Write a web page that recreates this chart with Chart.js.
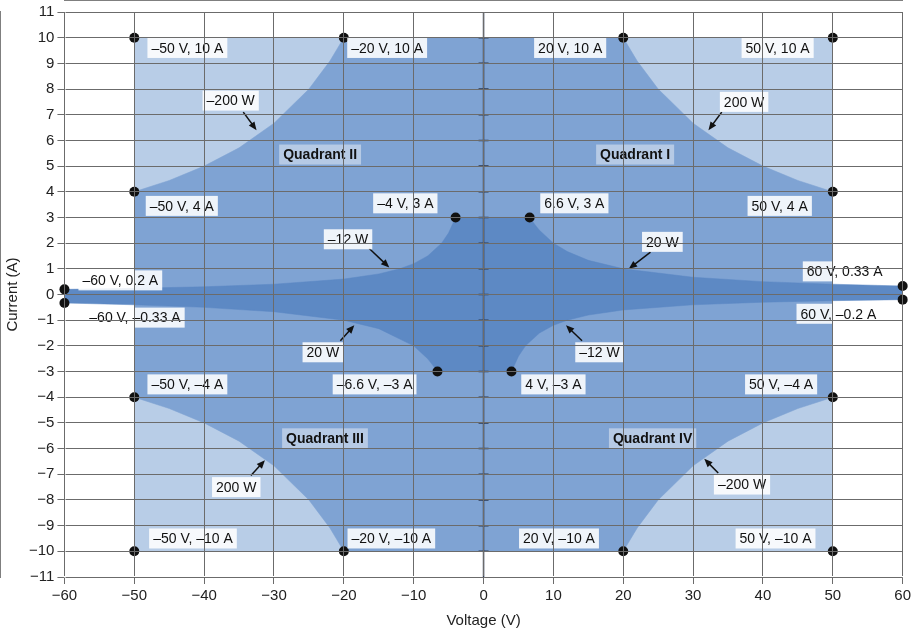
<!DOCTYPE html>
<html>
<head>
<meta charset="utf-8">
<script src="https://cdn.jsdelivr.net/npm/chart.js@4.4.1/dist/chart.umd.min.js"></script>
<style>
  html, body { margin: 0; padding: 0; background: #fff; }
  #wrap { width: 914px; height: 634px; }
</style>
</head>
<body>
<div id="wrap"><canvas id="quadChart"></canvas></div>
<script>
// Operating envelope: outer 200 W boundary (upper half, mirrored below)
const outerV = [-50, -45, -40, -35, -30, -25, -22, -20, 0, 20, 22, 25, 30, 35, 40, 45, 50];
const outerI = [4, 4.44, 5, 5.71, 6.67, 8, 9.09, 10, 10, 10, 9.09, 8, 6.67, 5.71, 5, 4.44, 4];
const outerLowI = [-4, -4.44, -5, -5.71, -6.67, -8, -9.09, -10, -10, -10, -9.09, -8, -6.67, -5.71, -5, -4.44, -4];

// Inner 12 W / 20 W envelope
const innerUpV = [-60, -50, -40, -30, -20, -15, -12, -10, -8, -6, -5, -4, 0, 6.6, 7.5, 8, 10, 12, 15, 20, 30, 40, 50, 60];
const innerUpI = [0.2, 0.24, 0.3, 0.4, 0.6, 0.8, 1, 1.2, 1.5, 2, 2.4, 3, 3, 3, 2.67, 2.5, 2, 1.67, 1.33, 1, 0.67, 0.5, 0.4, 0.33];
const innerLowV = [-60, -50, -40, -30, -20, -15, -10, -8, -7.5, -6.6, 0, 4, 5, 6, 8, 10, 12, 15, 20, 30, 40, 50, 60];
const innerLowI = [-0.33, -0.4, -0.5, -0.67, -1, -1.33, -2, -2.5, -2.67, -3, -3, -3, -2.4, -2, -1.5, -1.2, -1, -0.8, -0.6, -0.4, -0.3, -0.24, -0.2];

// Corner points
const dotV = [-50, -20, 20, 50, -50, 50, -4, 6.6, -60, -60, 60, 60, -6.6, 4, -50, 50, -50, -20, 20, 50];
const dotI = [10, 10, 10, 10, 4, 4, 3, 3, 0.2, -0.33, 0.33, -0.2, -3, -3, -4, -4, -10, -10, -10, -10];

const xTicks = [-60, -50, -40, -30, -20, -10, 0, 10, 20, 30, 40, 50, 60];

// Labels: text, x, y, bold
const labels = [
  ['\u201350 V, 10 A', -42.4, 9.6], ['\u201320 V, 10 A', -13.8, 9.6], ['20 V, 10 A', 12.4, 9.6], ['50 V, 10 A', 42.1, 9.6],
  ['\u2013200 W', -36.2, 7.55], ['200 W', 37.3, 7.5],
  ['Quadrant II', -23.4, 5.45, true], ['Quadrant I', 21.7, 5.45, true],
  ['\u201350 V, 4 A', -43.2, 3.45], ['\u20134 V, 3 A', -11.2, 3.55], ['6.6 V, 3 A', 13, 3.55], ['50 V, 4 A', 42.4, 3.45],
  ['\u201312 W', -19.4, 2.15], ['20 W', 25.6, 2.05],
  ['\u201360 V, 0.2 A', -52, 0.55], ['60 V, 0.33 A', 51.7, 0.9],
  ['\u201360 V, \u20130.33 A', -49.9, -0.9], ['60 V, \u20130.2 A', 50.8, -0.75],
  ['20 W', -23, -2.25], ['\u201312 W', 16.6, -2.25],
  ['\u201350 V, \u20134 A', -42.4, -3.5], ['\u20136.6 V, \u20133 A', -15.6, -3.5], ['4 V, \u20133 A', 10, -3.5], ['50 V, \u20134 A', 42.6, -3.5],
  ['Quadrant III', -22.7, -5.6, true], ['Quadrant IV', 24.2, -5.6, true],
  ['200 W', -35.4, -7.5], ['\u2013200 W', 37, -7.4],
  ['\u201350 V, \u201310 A', -41.6, -9.5], ['\u201320 V, \u201310 A', -13.2, -9.5], ['20 V, \u201310 A', 10.8, -9.5], ['50 V, \u201310 A', 41.8, -9.5]
];

// Arrows: from x, from y, to x, to y
const arrows = [
  [-34.4, 7.1, -32.5, 6.4], [34.1, 7.1, 32.2, 6.4],
  [-16.4, 1.8, -13.5, 1.05], [23.9, 1.65, 20.8, 1.0],
  [-20.5, -1.8, -18.5, -1.2], [14.1, -1.8, 11.8, -1.2],
  [-33.3, -7.05, -31.3, -6.45], [33.6, -6.95, 31.6, -6.4]
];

const LIGHT = '#b8cde7';
const MID = '#7fa3d3';
const DARK = '#5d89c4';

const pts = (xs, ys) => xs.map((x, i) => ({ x, y: ys[i] }));
const area = (data, color, order) => ({
  data, showLine: true, fill: 'origin', backgroundColor: color, borderColor: color,
  borderWidth: 0.5, pointRadius: 0, tension: 0, order
});

const annotate = {
  id: 'annotate',
  afterDatasetsDraw(chart) {
    const { ctx, scales: { x, y } } = chart;
    ctx.save();
    // zero axis with ticks
    ctx.strokeStyle = '#2b3a55';
    ctx.lineWidth = 1.5;
    ctx.beginPath();
    ctx.moveTo(x.getPixelForValue(0), y.top);
    ctx.lineTo(x.getPixelForValue(0), y.bottom);
    for (let v = -10; v <= 10; v++) {
      ctx.moveTo(x.getPixelForValue(0) - 5, y.getPixelForValue(v));
      ctx.lineTo(x.getPixelForValue(0) + 5, y.getPixelForValue(v));
    }
    ctx.stroke();
    // arrows
    ctx.strokeStyle = '#111';
    ctx.fillStyle = '#111';
    ctx.lineWidth = 1.5;
    arrows.forEach(([x1, y1, x2, y2]) => {
      const ax = x.getPixelForValue(x1), ay = y.getPixelForValue(y1);
      const bx = x.getPixelForValue(x2), by = y.getPixelForValue(y2);
      const ang = Math.atan2(by - ay, bx - ax);
      ctx.beginPath();
      ctx.moveTo(ax, ay);
      ctx.lineTo(bx - 6 * Math.cos(ang), by - 6 * Math.sin(ang));
      ctx.stroke();
      ctx.beginPath();
      ctx.moveTo(bx, by);
      ctx.lineTo(bx - 9 * Math.cos(ang - 0.4), by - 9 * Math.sin(ang - 0.4));
      ctx.lineTo(bx - 9 * Math.cos(ang + 0.4), by - 9 * Math.sin(ang + 0.4));
      ctx.closePath();
      ctx.fill();
    });
    // labels
    ctx.textAlign = 'center';
    ctx.textBaseline = 'middle';
    labels.forEach(([t, lx, ly, bold]) => {
      ctx.font = (bold ? 'bold ' : '') + '14px "Liberation Sans", Arial, sans-serif';
      const px = x.getPixelForValue(lx), py = y.getPixelForValue(ly);
      const w = ctx.measureText(t).width + 8;
      ctx.fillStyle = bold ? 'rgba(200,215,235,0.75)' : 'rgba(255,255,255,0.88)';
      ctx.fillRect(px - w / 2, py - 10, w, 20);
      ctx.fillStyle = '#111';
      ctx.fillText(t, px, py + 1);
    });
    ctx.restore();
  }
};

new Chart(document.getElementById('quadChart'), {
  type: 'scatter',
  data: {
    datasets: [
      area(pts([-50, 50], [10, 10]), LIGHT, 6),
      area(pts([-50, 50], [-10, -10]), LIGHT, 6),
      area(pts(outerV, outerI), MID, 5),
      area(pts(outerV, outerLowI), MID, 5),
      area(pts(innerUpV, innerUpI), DARK, 4),
      area(pts(innerLowV, innerLowI), DARK, 4),
      {
        data: pts(dotV, dotI), pointRadius: 5, pointBackgroundColor: '#111',
        pointBorderWidth: 0, showLine: false, clip: false, order: 0
      }
    ]
  },
  options: {
    responsive: true,
    maintainAspectRatio: false,
    animation: false,
    layout: { padding: { top: 12, right: 10, left: 0, bottom: 0 } },
    plugins: { legend: { display: false }, tooltip: { enabled: false } },
    scales: {
      x: {
        type: 'linear', min: -60, max: 60,
        afterBuildTicks: (s) => { s.ticks = xTicks.map(v => ({ value: v })); },
        grid: { color: '#6b6b6b', lineWidth: 1, z: 1, tickLength: 7, drawTicks: true },
        border: { color: '#555', width: 1.5 },
        ticks: {
          color: '#222', font: { size: 15, family: '"Liberation Sans", Arial' },
          callback: v => (v < 0 ? '\u2212' + Math.abs(v) : v)
        },
        title: { display: true, text: 'Voltage (V)', color: '#222', font: { size: 15, family: '"Liberation Sans", Arial' } }
      },
      y: {
        type: 'linear', min: -11, max: 11,
        ticks: {
          stepSize: 1, color: '#222', font: { size: 15, family: '"Liberation Sans", Arial' },
          callback: v => (v < 0 ? '\u2212' + Math.abs(v) : v)
        },
        grid: { color: '#6b6b6b', lineWidth: 1, z: 1, tickLength: 7 },
        border: { color: '#555', width: 1.5 },
        title: { display: true, text: 'Current (A)', color: '#222', font: { size: 15, family: '"Liberation Sans", Arial' } }
      }
    }
  },
  plugins: [annotate]
});
</script>
</body>
</html>
